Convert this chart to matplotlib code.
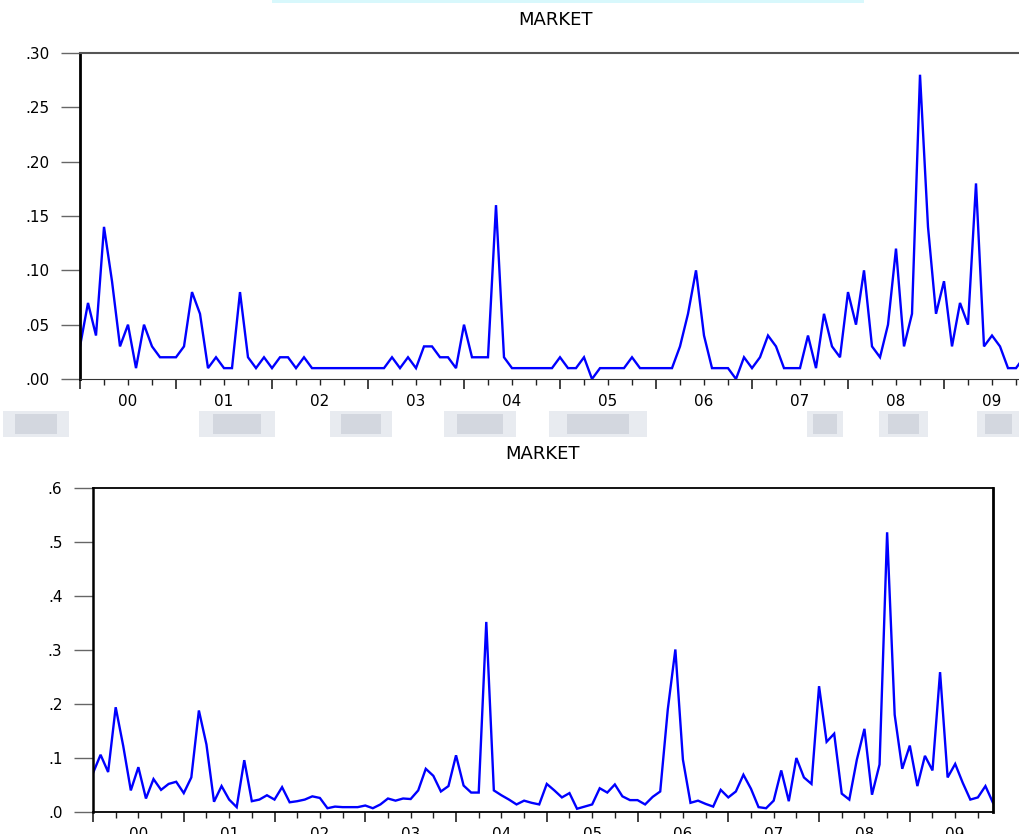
import numpy as np
import matplotlib
matplotlib.use('Agg')
import matplotlib.pyplot as plt
from matplotlib.patches import Rectangle
from matplotlib.ticker import FixedLocator, FuncFormatter

# monthly series, Jan 2000 - Dec 2009
market_top = [
    .03, .07, .04, .14, .09, .03, .05, .01, .05, .03, .02, .02,
    .02, .03, .08, .06, .01, .02, .01, .01, .08, .02, .01, .02,
    .01, .02, .02, .01, .02, .01, .01, .01, .01, .01, .01, .01,
    .01, .01, .01, .02, .01, .02, .01, .03, .03, .02, .02, .01,
    .05, .02, .02, .02, .16, .02, .01, .01, .01, .01, .01, .01,
    .02, .01, .01, .02, .00, .01, .01, .01, .01, .02, .01, .01,
    .01, .01, .01, .03, .06, .10, .04, .01, .01, .01, .00, .02,
    .01, .02, .04, .03, .01, .01, .01, .04, .01, .06, .03, .02,
    .08, .05, .10, .03, .02, .05, .12, .03, .06, .28, .14, .06,
    .09, .03, .07, .05, .18, .03, .04, .03, .01, .01, .02, .02,
]
market_bottom = [
    .072, .106, .074, .194, .122, .040, .083, .025, .061, .041, .052, .056,
    .035, .064, .188, .125, .019, .048, .023, .009, .096, .020, .023, .031,
    .023, .046, .018, .020, .023, .029, .026, .007, .010, .009, .009, .009,
    .012, .007, .014, .025, .021, .025, .024, .040, .080, .067, .038, .048,
    .105, .049, .036, .036, .352, .040, .031, .023, .014, .021, .017, .014,
    .052, .040, .027, .035, .006, .010, .014, .044, .036, .051, .029, .022,
    .022, .014, .028, .038, .190, .301, .097, .017, .021, .015, .010, .041,
    .027, .038, .069, .043, .009, .007, .021, .077, .020, .100, .064, .052,
    .233, .130, .145, .034, .023, .097, .154, .032, .088, .518, .180, .080,
    .123, .048, .104, .077, .259, .064, .089, .054, .023, .027, .048, .017,
]
years = [2000, 2001, 2002, 2003, 2004, 2005, 2006, 2007, 2008, 2009]
year_labels = ['00', '01', '02', '03', '04', '05', '06', '07', '08', '09']
title = 'MARKET'

plt.rcParams['font.family'] = ['DejaVu Sans']

W, H = 1020, 834
fig = plt.figure(figsize=(W / 100, H / 100), dpi=100)
fig.patch.set_facecolor('white')

def px_axes(left, top, right, bottom):
    return fig.add_axes([left / W, 1 - bottom / H, (right - left) / W, (bottom - top) / H])

def style_axes(ax, series, ymax, ystep, fmt, title_pad):
    t = np.array(years[0]) + np.arange(len(series)) / 12.0
    ax.plot(t, series, color='#0000ff', lw=1.7, solid_joinstyle='miter')
    ax.yaxis.set_major_locator(FixedLocator(np.arange(0, ymax + ystep / 2, ystep)))
    ax.yaxis.set_major_formatter(FuncFormatter(lambda v, p: format(v, fmt).lstrip('0')))
    ax.tick_params(axis='y', length=14, width=1, color='#666666', pad=8, labelsize=11)
    # year ticks (long) and quarter ticks (short)
    ax.xaxis.set_major_locator(FixedLocator(years))
    ax.xaxis.set_major_formatter(FuncFormatter(lambda v, p: ''))
    ax.xaxis.set_minor_locator(FixedLocator(np.arange(years[0], years[-1] + 1, 0.25)))
    ax.tick_params(axis='x', which='major', length=7, width=1.2, color='#222222')
    ax.tick_params(axis='x', which='minor', length=4, width=1, color='#222222')
    sec = ax.secondary_xaxis('bottom')
    sec.xaxis.set_major_locator(FixedLocator(np.array(years) + 0.5))
    sec.xaxis.set_major_formatter(FuncFormatter(lambda v, p: year_labels[int(v) - years[0]]))
    sec.tick_params(length=0, pad=11, labelsize=11)
    sec.spines['bottom'].set_visible(False)
    ax.set_xlim(t[0], t[-1])
    ax.set_ylim(0, ymax)
    ax.set_title(title, fontsize=13, pad=title_pad)

# top panel (right edge runs past the picture)
ax1 = px_axes(80, 53, 1032, 379)
style_axes(ax1, market_top, 0.30, 0.05, '.2f', 20)
ax1.spines['left'].set_linewidth(2)
ax1.spines['left'].set_color('black')
ax1.spines['top'].set_color('#555555')
ax1.spines['top'].set_linewidth(1.5)
ax1.spines['bottom'].set_color('#333333')
ax1.spines['right'].set_visible(False)

# bottom panel
ax2 = px_axes(93, 488, 993, 812)
style_axes(ax2, market_bottom, 0.6, 0.1, '.1f', 21)
for s in ax2.spines.values():
    s.set_color('black')
    s.set_linewidth(1.3)
ax2.spines['left'].set_linewidth(1.8)
ax2.spines['right'].set_linewidth(2)

# faint smudges left over from the crop
smudges = [(3, 69), (199, 275), (330, 392), (444, 516), (549, 647),
           (807, 843), (879, 928), (977, 1020)]
for x0, x1 in smudges:
    fig.add_artist(Rectangle((x0 / W, 1 - 437 / H), (x1 - x0) / W, 26 / H,
                             transform=fig.transFigure, facecolor='#e8ebf0',
                             edgecolor='none', zorder=0))
    pad = (x1 - x0) * 0.18
    fig.add_artist(Rectangle(((x0 + pad) / W, 1 - 434 / H), (x1 - x0 - 2 * pad) / W, 20 / H,
                             transform=fig.transFigure, facecolor='#d3d7df',
                             edgecolor='none', zorder=0))
fig.add_artist(Rectangle((272 / W, 1 - 3 / H), (864 - 272) / W, 3 / H,
                         transform=fig.transFigure, facecolor='#d8f8fc',
                         edgecolor='none', zorder=0))

fig.savefig('out.png', dpi=100)
